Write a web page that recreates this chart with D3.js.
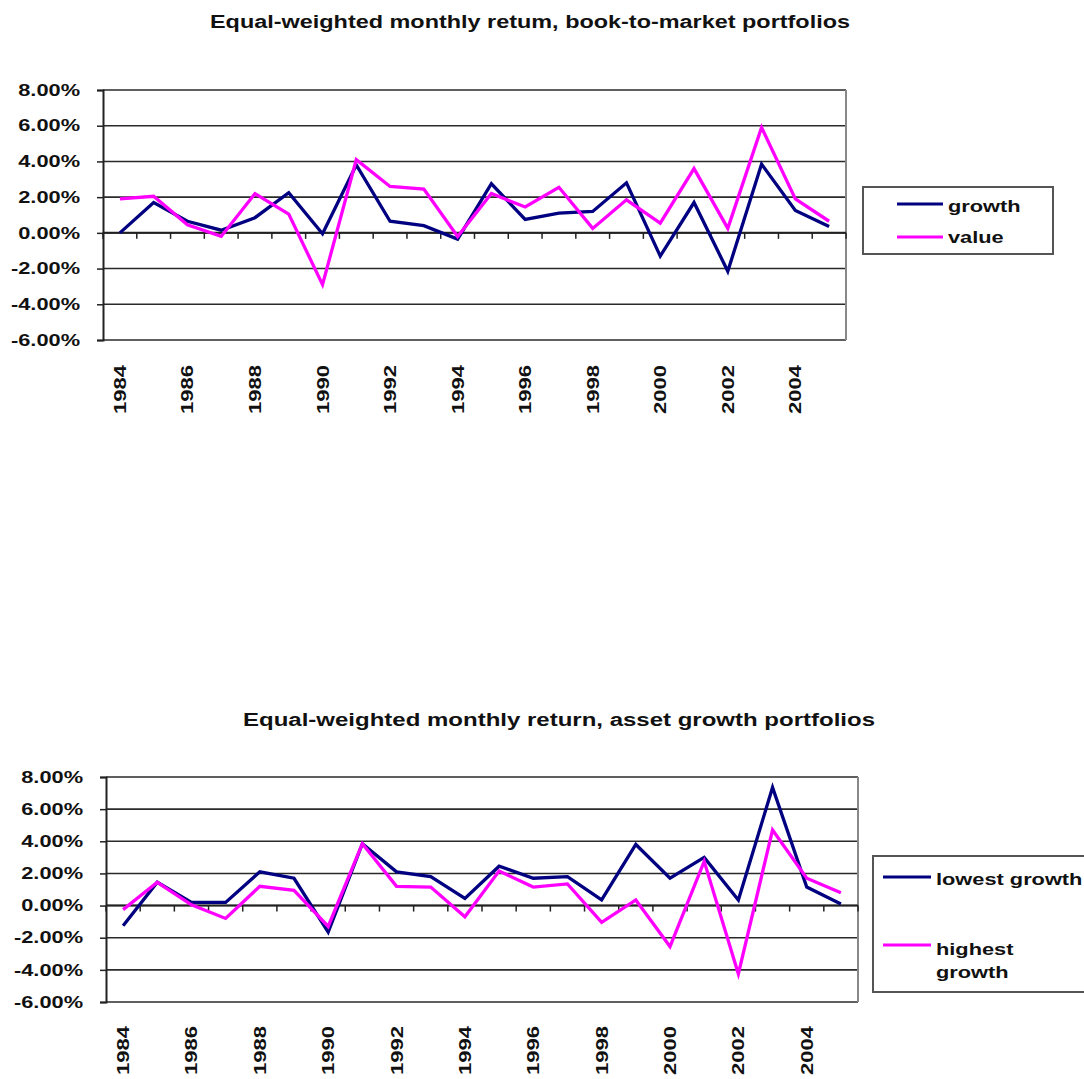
<!DOCTYPE html>
<head>
    <meta charset="utf-8">
    <script src="https://d3js.org/d3.v7.min.js"></script>
    <style>
        body { margin: 0; background: #fff; }
        svg { display: block; }
        text { font-family: "Liberation Sans", Arial, sans-serif; font-weight: bold; fill: #111; }
    </style>
</head>
<body>
    <script>
        // categories and values (monthly return, %)
        const years = [1984, 1985, 1986, 1987, 1988, 1989, 1990, 1991, 1992, 1993, 1994,
            1995, 1996, 1997, 1998, 1999, 2000, 2001, 2002, 2003, 2004, 2005];
        const labelYears = [1984, 1986, 1988, 1990, 1992, 1994, 1996, 1998, 2000, 2002, 2004];
        const yTicks = [8, 6, 4, 2, 0, -2, -4, -6];

        const bmGrowth = [0.0, 1.7, 0.65, 0.15, 0.85, 2.25, -0.05, 3.8, 0.65, 0.4, -0.35,
            2.75, 0.75, 1.1, 1.2, 2.8, -1.3, 1.7, -2.15, 3.85, 1.25, 0.35];
        const bmValue = [1.9, 2.05, 0.45, -0.2, 2.2, 1.05, -2.9, 4.1, 2.6, 2.45, -0.2,
            2.2, 1.45, 2.55, 0.25, 1.85, 0.55, 3.6, 0.25, 5.9, 1.9, 0.65];
        const agLowest = [-1.25, 1.45, 0.2, 0.2, 2.1, 1.7, -1.65, 3.85, 2.1, 1.8, 0.45,
            2.45, 1.7, 1.8, 0.35, 3.8, 1.7, 3.0, 0.35, 7.35, 1.15, 0.1];
        const agHighest = [-0.25, 1.45, 0.05, -0.8, 1.2, 0.95, -1.3, 3.85, 1.2, 1.15, -0.7,
            2.15, 1.15, 1.35, -1.05, 0.35, -2.55, 2.75, -4.25, 4.7, 1.7, 0.8];

        const topTitle = "Equal-weighted monthly retum, book-to-market portfolios";
        const bottomTitle = "Equal-weighted monthly return, asset growth portfolios";

        const NAVY = "#000080", PINK = "#ff00ff";
        const STRETCH = 1.32; // the picture is wider than normal type

        const svg = d3.select("body").append("svg")
            .attr("width", 1084)
            .attr("height", 1079);

        function stretch(sel, k) {
            sel.each(function () {
                const w = this.getComputedTextLength();
                d3.select(this).attr("textLength", w * k).attr("lengthAdjust", "spacingAndGlyphs");
            });
        }

        function drawChart(o) {
            const g = svg.append("g");
            const x = d3.scaleBand().domain(years).range([o.left, o.right]).padding(0);
            const y = d3.scaleLinear().domain([-6, 8]).range([o.bottom, o.top]);

            // title
            g.append("text")
                .attr("x", o.titleX)
                .attr("y", o.titleY)
                .attr("text-anchor", "middle")
                .attr("font-size", 18)
                .attr("textLength", o.titleW)
                .attr("lengthAdjust", "spacingAndGlyphs")
                .text(o.title);

            // gridlines
            g.append("g").selectAll("line")
                .data(yTicks)
                .join("line")
                .attr("x1", o.left).attr("x2", o.right)
                .attr("y1", d => y(d)).attr("y2", d => y(d))
                .attr("stroke", "#2a2a2a")
                .attr("stroke-width", 1.6);

            // right border
            g.append("line")
                .attr("x1", o.right).attr("x2", o.right)
                .attr("y1", o.top).attr("y2", o.bottom)
                .attr("stroke", "#888").attr("stroke-width", 2);

            // y axis
            const ya = g.append("g")
                .attr("transform", `translate(${o.left},0)`)
                .call(d3.axisLeft(y).tickValues(yTicks).tickSize(6).tickPadding(17)
                    .tickFormat(d => d.toFixed(2) + "%"));
            ya.select(".domain").attr("stroke", "#222").attr("stroke-width", 2);
            ya.selectAll(".tick line").attr("stroke", "#222").attr("stroke-width", 1.5);
            ya.selectAll("text").attr("font-size", 16.5).attr("fill", "#111")
                .attr("font-family", "Liberation Sans, Arial, sans-serif");
            stretch(ya.selectAll("text"), STRETCH);

            // x axis through zero, ticks on category boundaries
            const bounds = years.map(d => x(d)).concat([o.right]);
            g.append("line")
                .attr("x1", o.left).attr("x2", o.right)
                .attr("y1", y(0)).attr("y2", y(0))
                .attr("stroke", "#222").attr("stroke-width", 2);
            g.append("g").selectAll("line")
                .data(bounds)
                .join("line")
                .attr("x1", d => d).attr("x2", d => d)
                .attr("y1", y(0)).attr("y2", y(0) + 6)
                .attr("stroke", "#222").attr("stroke-width", 1.5);

            // rotated year labels below the plot
            g.append("g").selectAll("text")
                .data(labelYears)
                .join("text")
                .attr("transform", d => `translate(${x(d) + x.bandwidth() / 2 + 6},${o.labelTop}) rotate(-90)`)
                .attr("text-anchor", "end")
                .attr("font-size", 17)
                .attr("textLength", 49)
                .attr("lengthAdjust", "spacingAndGlyphs")
                .text(d => d);

            // series lines
            const line = d3.line()
                .x((d, i) => x(years[i]) + x.bandwidth() / 2)
                .y(d => y(d));
            o.series.forEach(s => {
                g.append("path")
                    .datum(s.values)
                    .attr("fill", "none")
                    .attr("stroke", s.color)
                    .attr("stroke-width", 3.3)
                    .attr("stroke-linejoin", "miter")
                    .attr("d", line);
            });

            // legend
            const lg = g.append("g");
            lg.append("rect")
                .attr("x", o.legend.x).attr("y", o.legend.y)
                .attr("width", o.legend.w).attr("height", o.legend.h)
                .attr("fill", "#fff")
                .attr("stroke", "#555").attr("stroke-width", 2);
            o.series.forEach(s => {
                lg.append("line")
                    .attr("x1", s.lx1).attr("x2", s.lx2)
                    .attr("y1", s.ly).attr("y2", s.ly)
                    .attr("stroke", s.color).attr("stroke-width", 3);
                const t = lg.append("text")
                    .attr("x", s.lx2 + 5)
                    .attr("y", s.ty)
                    .attr("font-size", 16.5);
                s.label.forEach((line, i) => {
                    t.append("tspan").attr("x", s.lx2 + 5).attr("dy", i ? 23 : 0).text(line);
                });
                stretch(t.selectAll("tspan"), STRETCH);
            });
        }

        drawChart({
            title: topTitle, titleX: 530, titleY: 28, titleW: 640,
            left: 103, right: 846, top: 90, bottom: 340, labelTop: 365,
            legend: { x: 863, y: 187, w: 190, h: 67 },
            series: [
                { values: bmGrowth, color: NAVY, label: ["growth"], lx1: 897, lx2: 943, ly: 204, ty: 212 },
                { values: bmValue, color: PINK, label: ["value"], lx1: 897, lx2: 943, ly: 237, ty: 243 }
            ]
        });

        drawChart({
            title: bottomTitle, titleX: 559, titleY: 726, titleW: 632,
            left: 106, right: 858, top: 777, bottom: 1002, labelTop: 1026,
            legend: { x: 873, y: 856, w: 240, h: 136 },
            series: [
                { values: agLowest, color: NAVY, label: ["lowest growth"], lx1: 883, lx2: 931, ly: 877, ty: 885 },
                { values: agHighest, color: PINK, label: ["highest", "growth"], lx1: 883, lx2: 931, ly: 945, ty: 955 }
            ]
        });
    </script>
</body>
